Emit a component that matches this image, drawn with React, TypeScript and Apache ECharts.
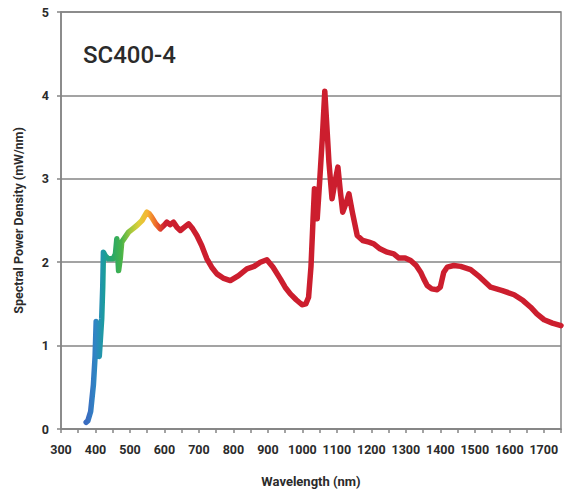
import React, { useEffect, useRef } from "react";
import * as echarts from "echarts";

const titleText = "SC400-4";
const xAxisName = "Wavelength (nm)";
const yAxisName = "Spectral Power Density (mW/nm)";

const wavelength = [
  373, 378, 386, 394, 399, 402, 406, 411, 418, 421, 423, 428, 437, 451, 458, 462, 467, 472, 476, 486,
  496, 508, 520, 535, 549, 556, 563, 575, 588, 598, 607, 616, 626, 636, 646, 658, 670, 682, 694, 708,
  723, 737, 752, 770, 791, 815, 839, 860, 878, 897, 915, 936, 950, 965, 982, 999, 1010, 1018, 1025, 1031,
  1035, 1043, 1050, 1058, 1065, 1070, 1077, 1086, 1094, 1103, 1110, 1117, 1126, 1135, 1145, 1159, 1175,
  1193, 1207, 1225, 1246, 1265, 1280, 1298, 1314, 1330, 1343, 1352, 1362, 1375, 1391, 1400, 1410, 1420,
  1439, 1459, 1488, 1515, 1546, 1580, 1614, 1640, 1662, 1680, 1701, 1725, 1750,
];

const power = [
  0.08, 0.1, 0.21, 0.53, 0.88, 1.29, 1.05, 0.87, 1.32, 1.7, 2.12, 2.08, 2.04, 2.04, 2.1, 2.28, 1.9, 2.05, 2.24, 2.3,
  2.36, 2.4, 2.44, 2.5, 2.6, 2.58, 2.54, 2.46, 2.4, 2.44, 2.48, 2.45, 2.48, 2.42, 2.38, 2.42, 2.46, 2.4, 2.32, 2.2,
  2.04, 1.94, 1.86, 1.81, 1.78, 1.84, 1.92, 1.95, 2.0, 2.03, 1.94, 1.8, 1.7, 1.62, 1.55, 1.49, 1.5, 1.58, 1.95, 2.52,
  2.88, 2.52, 2.96, 3.5, 4.05, 3.7, 3.2, 2.76, 2.95, 3.14, 2.85, 2.6, 2.7, 2.82, 2.6, 2.32, 2.26,
  2.24, 2.22, 2.16, 2.12, 2.1, 2.05, 2.05, 2.02, 1.96, 1.88, 1.8, 1.72, 1.68, 1.67, 1.7, 1.88, 1.94,
  1.96, 1.95, 1.91, 1.82, 1.7, 1.66, 1.61, 1.54, 1.46, 1.38, 1.31, 1.27, 1.24,
];

const spectrumColors = [
  "#3a6cc0", "#2f86c4", "#1b9c9e", "#2aa866", "#46b34a", "#9cc63e", "#dccf3a", "#f6b532", "#ee6a2a", "#cc1e2e",
];

export default function App() {
  const ref = useRef<HTMLDivElement>(null);
  useEffect(() => {
    if (!ref.current) return;
    const chart = echarts.init(ref.current, undefined, { renderer: "svg" });
    const gray = "#858585";
    const font = "Roboto, 'DejaVu Sans', sans-serif";
    chart.setOption({
      animation: false,
      backgroundColor: "#ffffff",
      title: {
        text: titleText,
        left: 78,
        top: 38,
        textStyle: { fontSize: 24, fontWeight: 500, color: "#2b2b2b", fontFamily: font },
      },
      grid: {
        left: 61,
        right: 3,
        top: 12,
        bottom: 62,
        show: true,
        borderColor: gray,
        borderWidth: 1.5,
      },
      visualMap: {
        type: "continuous",
        show: false,
        dimension: 0,
        min: 375,
        max: 600,
        inRange: { color: spectrumColors },
      },
      xAxis: {
        type: "value",
        min: 300,
        max: 1750,
        interval: 50,
        name: xAxisName,
        nameLocation: "middle",
        nameGap: 46,
        nameTextStyle: { fontSize: 13, fontWeight: "bold", color: "#2b2b2b", fontFamily: font },
        axisLine: { show: true, lineStyle: { color: gray, width: 1.5 } },
        axisTick: { show: true, length: 4, lineStyle: { color: gray, width: 1.5 } },
        axisLabel: {
          show: true,
          margin: 14,
          fontSize: 12.5,
          fontWeight: "bold",
          color: "#2b2b2b",
          fontFamily: font,
          showMinLabel: true,
          showMaxLabel: true,
          formatter: (v: number) => (v % 100 === 0 ? String(v) : ""),
        },
        splitLine: { show: false },
      },
      yAxis: {
        type: "value",
        min: 0,
        max: 5,
        interval: 1,
        name: yAxisName,
        nameLocation: "middle",
        nameGap: 36,
        nameTextStyle: { fontSize: 12.5, fontWeight: "bold", color: "#2b2b2b", fontFamily: font },
        axisLine: { show: true, lineStyle: { color: gray, width: 1.5 } },
        axisTick: { show: true, length: 4, lineStyle: { color: gray, width: 1.5 } },
        axisLabel: { margin: 12, fontSize: 12.5, fontWeight: "bold", color: "#2b2b2b", fontFamily: font },
        splitLine: { show: true, lineStyle: { color: gray, width: 1.5 } },
      },
      series: [
        {
          type: "line",
          data: wavelength.map((w, i) => [w, power[i]]),
          showSymbol: false,
          symbol: "none",
          smooth: false,
          lineStyle: { width: 5.5, cap: "round", join: "round" },
        },
      ],
    });
    return () => chart.dispose();
  }, []);
  return <div ref={ref} style={{ position: "absolute", left: 0, top: 0, width: 564, height: 493 }} />;
}
